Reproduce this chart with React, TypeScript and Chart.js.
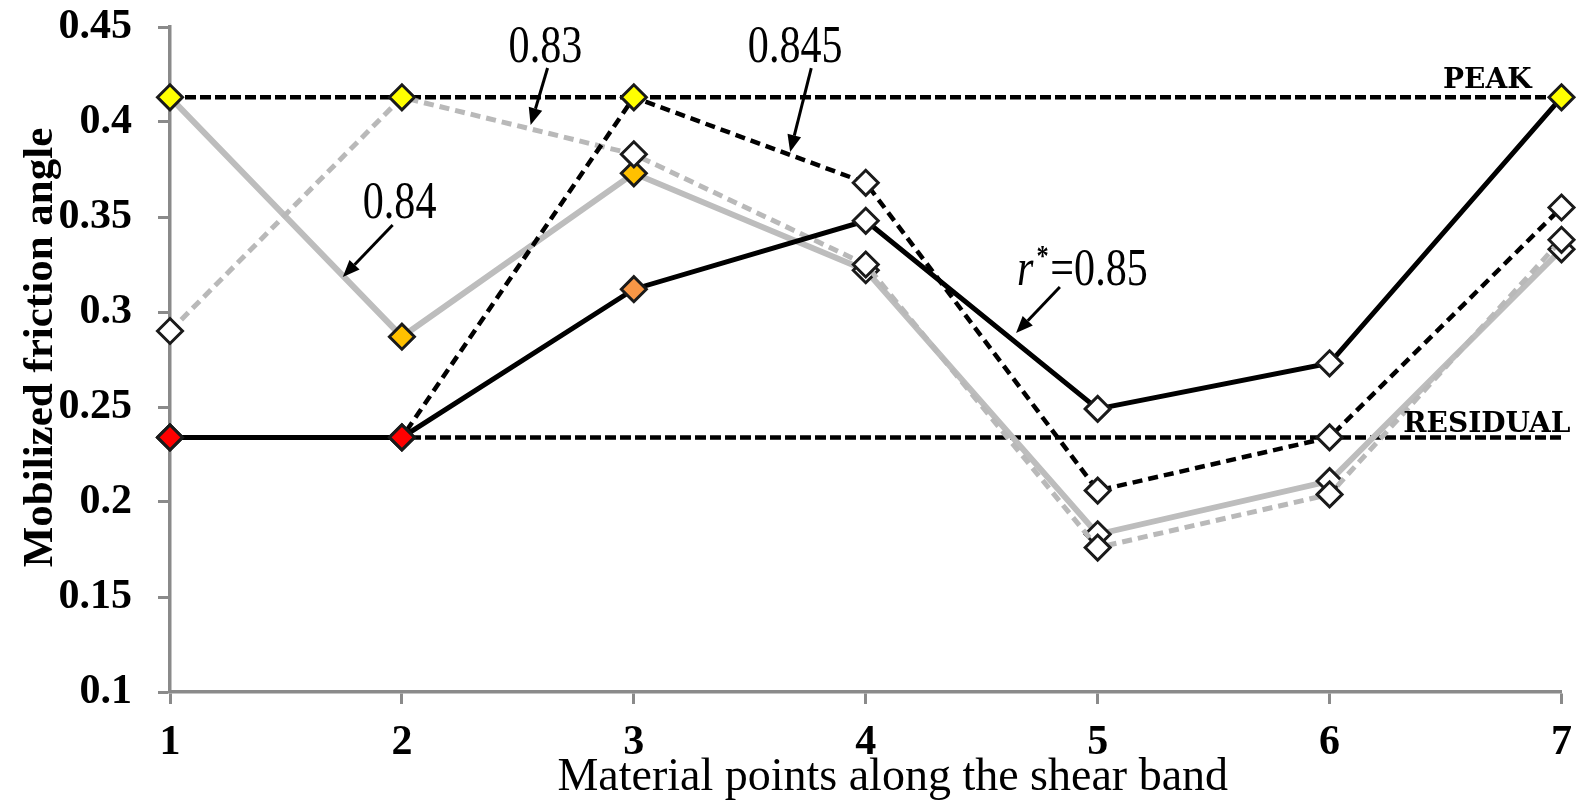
import React, { useEffect, useRef } from 'react';
import { Chart, registerables } from 'chart.js';

Chart.register(...registerables);

// ---- data ----
const X_LABELS = ['1', '2', '3', '4', '5', '6', '7'];
const Y_TICK_VALUES = [0.1, 0.15, 0.2, 0.25, 0.3, 0.35, 0.4, 0.45];
const Y_TICK_LABELS = ['0.1', '0.15', '0.2', '0.25', '0.3', '0.35', '0.4', '0.45'];
const Y_MIN = 0.1;
const Y_MAX = 0.45;

const SERIES_085 = [0.234, 0.234, 0.312, 0.348, 0.249, 0.273, 0.413];
const SERIES_0845 = [0.234, 0.234, 0.413, 0.368, 0.206, 0.234, 0.355];
const SERIES_083 = [0.29, 0.413, 0.383, 0.325, 0.176, 0.204, 0.338];
const SERIES_084 = [0.413, 0.287, 0.373, 0.322, 0.183, 0.211, 0.333];
const PEAK_VALUE = 0.413;
const RESIDUAL_VALUE = 0.234;

const X_TITLE = 'Material points along the shear band';
const Y_TITLE = 'Mobilized friction angle';

// ---- styles ----
const YEL = '#FFFF00';
const ORG = '#FFC000';
const SAL = '#F79646';
const RED = '#FF0000';
const WHT = '#FFFFFF';
const FILL_085 = [RED, RED, SAL, WHT, WHT, WHT, YEL];
const FILL_0845 = [RED, RED, YEL, WHT, WHT, WHT, WHT];
const FILL_083 = [WHT, YEL, WHT, WHT, WHT, WHT, WHT];
const FILL_084 = [YEL, ORG, ORG, WHT, WHT, WHT, WHT];

const SERIF = '"Liberation Serif", "Times New Roman", serif';

// annotation labels, positions in data units (x = material point, y = baseline value)
const NOTES = [
  { text: '0.84', x: 1.99, y: 0.3495, tail: [1.96, 0.3458], head: [1.745, 0.3184] },
  { text: '0.83', x: 2.619, y: 0.4316, tail: [2.628, 0.4284], head: [2.555, 0.3984] },
  { text: '0.845', x: 3.696, y: 0.4316, tail: [3.765, 0.4284], head: [3.674, 0.3842] },
];
const RSTAR = { x: 4.652, y: 0.3142, tail: [4.837, 0.3132], head: [4.648, 0.2889] };

function drawArrow(ctx: CanvasRenderingContext2D, x1: number, y1: number, x2: number, y2: number) {
  const a = Math.atan2(y2 - y1, x2 - x1);
  const L = 17;
  const W = 7;
  const bx = x2 - L * Math.cos(a);
  const by = y2 - L * Math.sin(a);
  ctx.lineWidth = 3;
  ctx.beginPath();
  ctx.moveTo(x1, y1);
  ctx.lineTo(bx, by);
  ctx.stroke();
  ctx.beginPath();
  ctx.moveTo(x2, y2);
  ctx.lineTo(bx + W * Math.sin(a), by - W * Math.cos(a));
  ctx.lineTo(bx - W * Math.sin(a), by + W * Math.cos(a));
  ctx.closePath();
  ctx.fill();
}

const annotationPlugin = {
  id: 'annotationPlugin',
  afterDatasetsDraw(chart: any) {
    const ctx: CanvasRenderingContext2D = chart.ctx;
    const xs = chart.scales.x;
    const ys = chart.scales.y;
    const ca = chart.chartArea;
    const px = (v: number) => xs.getPixelForValue(v - 1);
    const py = (v: number) => ys.getPixelForValue(v);
    const SX = 0.81;

    ctx.save();
    ctx.fillStyle = '#000';
    ctx.strokeStyle = '#000';

    // numeric notes
    ctx.font = `52px ${SERIF}`;
    ctx.textBaseline = 'alphabetic';
    for (const n of NOTES) {
      ctx.save();
      ctx.translate(px(n.x), py(n.y));
      ctx.scale(SX, 1);
      ctx.textAlign = 'center';
      ctx.fillText(n.text, 0, 0);
      ctx.restore();
      drawArrow(ctx, px(n.tail[0]), py(n.tail[1]), px(n.head[0]), py(n.head[1]));
    }

    // r* = 0.85
    ctx.save();
    ctx.translate(px(RSTAR.x), py(RSTAR.y));
    ctx.scale(SX, 1);
    ctx.textAlign = 'left';
    ctx.font = `italic 52px ${SERIF}`;
    ctx.fillText('r', 0, 0);
    let w = ctx.measureText('r').width + 4;
    ctx.font = `bold 30px ${SERIF}`;
    ctx.fillText('*', w, -20);
    w += ctx.measureText('*').width + 2;
    ctx.font = `52px ${SERIF}`;
    ctx.fillText('=0.85', w, 0);
    ctx.restore();
    drawArrow(ctx, px(RSTAR.tail[0]), py(RSTAR.tail[1]), px(RSTAR.head[0]), py(RSTAR.head[1]));

    // PEAK / RESIDUAL labels
    ctx.font = `bold 28px "DejaVu Serif", serif`;
    ctx.textAlign = 'right';
    ctx.textBaseline = 'alphabetic';
    ctx.fillText('PEAK', ca.right - 30, py(PEAK_VALUE) - 9);
    ctx.fillText('RESIDUAL', ca.right + 9, py(RESIDUAL_VALUE) - 5);

    // axis titles
    ctx.font = `46px ${SERIF}`;
    ctx.textAlign = 'center';
    ctx.fillText(X_TITLE, (ca.left + ca.right) / 2 + 27, ca.bottom + 98);

    ctx.save();
    ctx.translate(52, (ca.top + ca.bottom) / 2 - 12);
    ctx.rotate(-Math.PI / 2);
    ctx.font = `bold 43px ${SERIF}`;
    ctx.textAlign = 'center';
    ctx.fillText(Y_TITLE, 0, 0);
    ctx.restore();

    ctx.restore();
  },
};

function pointStyleFor(fill: string[]) {
  return {
    pointStyle: 'rectRot' as const,
    pointRadius: 12.5,
    pointHoverRadius: 12.5,
    pointBorderWidth: 3,
    pointBorderColor: '#1a1a1a',
    pointBackgroundColor: fill,
  };
}

export default function App() {
  const canvasRef = useRef<HTMLCanvasElement | null>(null);

  useEffect(() => {
    if (!canvasRef.current) return;
    const refLine = (value: number) => X_LABELS.map(() => value);
    const chart = new Chart(canvasRef.current, {
      type: 'line',
      data: {
        labels: X_LABELS,
        datasets: [
          {
            label: 'r* = 0.85',
            data: SERIES_085,
            borderColor: '#000',
            borderWidth: 5,
            tension: 0,
            ...pointStyleFor(FILL_085),
          },
          {
            label: '0.845',
            data: SERIES_0845,
            borderColor: '#000',
            borderWidth: 4.5,
            borderDash: [10, 6],
            tension: 0,
            ...pointStyleFor(FILL_0845),
          },
          {
            label: '0.83',
            data: SERIES_083,
            borderColor: '#B9B9B9',
            borderWidth: 5,
            borderDash: [10, 6],
            tension: 0,
            ...pointStyleFor(FILL_083),
          },
          {
            label: '0.84',
            data: SERIES_084,
            borderColor: '#BDBDBD',
            borderWidth: 6,
            tension: 0,
            ...pointStyleFor(FILL_084),
          },
          {
            label: 'Peak',
            data: refLine(PEAK_VALUE),
            borderColor: '#000',
            borderWidth: 4.5,
            borderDash: [11, 4],
            pointRadius: 0,
            tension: 0,
          },
          {
            label: 'Residual',
            data: refLine(RESIDUAL_VALUE),
            borderColor: '#000',
            borderWidth: 4.5,
            borderDash: [11, 4],
            pointRadius: 0,
            tension: 0,
          },
        ],
      },
      options: {
        responsive: false,
        devicePixelRatio: 1,
        animation: false,
        events: [],
        layout: { padding: { left: 0, right: 14, top: 27, bottom: 0 } },
        plugins: {
          legend: { display: false },
          tooltip: { enabled: false },
        },
        scales: {
          x: {
            type: 'category',
            offset: false,
            grid: {
              offset: false,
              display: true,
              drawOnChartArea: false,
              drawTicks: true,
              tickLength: 12,
              tickColor: '#8a8a8a',
              tickWidth: 3,
            },
            border: { display: true, color: '#8a8a8a', width: 3.5 },
            ticks: {
              color: '#000',
              padding: 14,
              maxRotation: 0,
              font: { family: SERIF, size: 42, weight: 'bold' },
            },
            afterFit: (scale: any) => {
              scale.height = 110;
              scale.paddingLeft = 0;
              scale.paddingRight = 0;
            },
          },
          y: {
            type: 'linear',
            min: Y_MIN,
            max: Y_MAX,
            grid: {
              display: true,
              drawOnChartArea: false,
              drawTicks: true,
              tickLength: 12,
              tickColor: '#8a8a8a',
              tickWidth: 3,
            },
            border: { display: true, color: '#8a8a8a', width: 3.5 },
            afterBuildTicks: (scale: any) => {
              scale.ticks = Y_TICK_VALUES.map((v) => ({ value: v }));
            },
            ticks: {
              color: '#000',
              padding: 26,
              font: { family: SERIF, size: 42, weight: 'bold' },
              callback: (_v: any, i: number) => Y_TICK_LABELS[i],
            },
            afterFit: (scale: any) => {
              scale.width = 170;
              scale.paddingTop = 0;
              scale.paddingBottom = 0;
            },
          },
        },
      },
      plugins: [annotationPlugin],
    });
    return () => chart.destroy();
  }, []);

  return (
    <div style={{ position: 'absolute', left: 0, top: 0, width: 1577, height: 802, background: '#fff' }}>
      <canvas ref={canvasRef} width={1577} height={802} style={{ display: 'block' }} />
    </div>
  );
}
